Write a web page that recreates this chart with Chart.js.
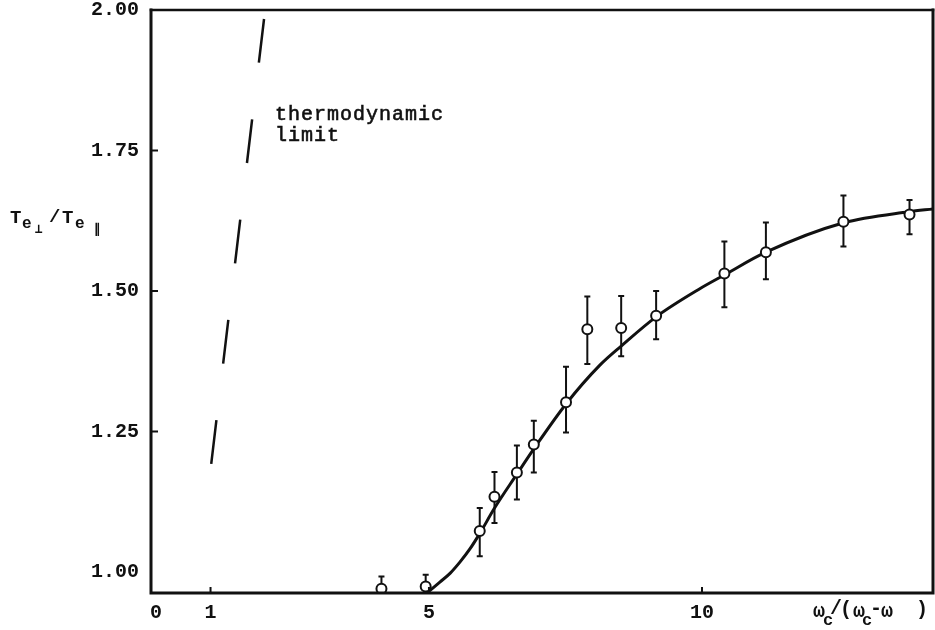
<!DOCTYPE html>
<html>
<head>
<meta charset="utf-8">
<title>Te⊥/Te∥ versus ωc/(ωc-ω)</title>
<script src="https://cdn.jsdelivr.net/npm/chart.js@4.4.1/dist/chart.umd.min.js"></script>
<style>
  html, body { margin: 0; padding: 0; background: #fff; }
  canvas { display: block; }
</style>
</head>
<body>
<canvas id="ratioChart" width="935" height="630"></canvas>
<script>
// ==============================
// data
// ==============================

// measured points, with the ends of their error bars
const xPoints  = [4.13, 4.94, 5.93, 6.20, 6.61, 6.92, 7.51, 7.90, 8.52, 9.16, 10.41, 11.17, 12.59, 13.80];
const yPoints  = [0.970, 0.974, 1.073, 1.134, 1.177, 1.227, 1.302, 1.432, 1.434, 1.456, 1.531, 1.569, 1.623, 1.636];
const yErrLow  = [0.948, 0.953, 1.028, 1.087, 1.129, 1.177, 1.248, 1.370, 1.384, 1.414, 1.471, 1.521, 1.579, 1.601];
const yErrHigh = [0.992, 0.995, 1.114, 1.178, 1.225, 1.269, 1.365, 1.490, 1.491, 1.500, 1.588, 1.622, 1.670, 1.662];

// smooth curve drawn through the points
const curveX = [4.98, 5.20, 5.39, 5.57, 5.75, 5.94, 6.19, 6.61, 6.92, 7.51, 8.13, 8.52, 9.16, 9.96, 10.40, 11.17, 12.58, 13.79, 14.23];
const curveY = [0.964, 0.982, 0.998, 1.018, 1.041, 1.070, 1.112, 1.174, 1.219, 1.299, 1.368, 1.402, 1.454, 1.504, 1.528, 1.569, 1.621, 1.641, 1.646];

// thermodynamic limit (dashed), top end first so the dashes start there
const limitX = [1.98, 1.01];
const limitY = [1.984, 1.190];

// axes
const xTicks = [0, 1, 5, 10];
const yTicks = [1.00, 1.25, 1.50, 1.75, 2.00];
const xTickMarks = [1, 5, 10];
const yTickMarks = [1.25, 1.50, 1.75];

const INK = '#111';
const MONO = '"Liberation Mono", "DejaVu Sans Mono", monospace';

function toXY(xs, ys) {
    return xs.map((x, i) => ({ x: x, y: ys[i] }));
}

// error bars, drawn just before the circles so the circles sit on top
const errorBars = {
    id: 'errorBars',
    beforeDatasetDraw(chart, args) {
        if (args.index !== 0) return;
        const { ctx, chartArea: a, scales: { x, y } } = chart;
        ctx.save();
        ctx.beginPath();
        ctx.rect(a.left, a.top, a.right - a.left, a.bottom - a.top);
        ctx.clip();
        ctx.strokeStyle = INK;
        ctx.lineWidth = 2;
        ctx.beginPath();
        xPoints.forEach((xv, i) => {
            const px = x.getPixelForValue(xv);
            const top = y.getPixelForValue(yErrHigh[i]);
            const bot = y.getPixelForValue(yErrLow[i]);
            ctx.moveTo(px, top); ctx.lineTo(px, bot);
            ctx.moveTo(px - 3, top); ctx.lineTo(px + 3, top);
            ctx.moveTo(px - 3, bot); ctx.lineTo(px + 3, bot);
        });
        ctx.stroke();
        ctx.restore();
    }
};

function drawPieces(ctx, pieces) {
    pieces.forEach(p => {
        ctx.font = p.f;
        ctx.fillText(p.t, p.x, p.y);
    });
}

// frame, inward tick marks and the free text
const frame = {
    id: 'frame',
    afterDraw(chart) {
        const { ctx, chartArea: a, scales: { x, y } } = chart;
        ctx.save();
        ctx.strokeStyle = INK;
        ctx.fillStyle = INK;
        ctx.lineCap = 'square';

        ctx.lineWidth = 3;
        ctx.beginPath();
        ctx.moveTo(a.left, a.top);
        ctx.lineTo(a.left, a.bottom);
        ctx.lineTo(a.right, a.bottom);
        ctx.lineTo(a.right, a.top);
        ctx.stroke();
        ctx.lineWidth = 2.5;
        ctx.beginPath();
        ctx.moveTo(a.left, a.top);
        ctx.lineTo(a.right, a.top);
        ctx.stroke();

        ctx.lineCap = 'butt';
        ctx.lineWidth = 2;
        ctx.beginPath();
        xTickMarks.forEach(v => {
            const px = x.getPixelForValue(v);
            ctx.moveTo(px, a.bottom);
            ctx.lineTo(px, a.bottom - 6);
        });
        yTickMarks.forEach(v => {
            const py = y.getPixelForValue(v);
            ctx.moveTo(a.left, py);
            ctx.lineTo(a.left + 7, py);
        });
        ctx.stroke();

        // annotation, slightly thickened to look typewritten
        ctx.textAlign = 'left';
        ctx.textBaseline = 'alphabetic';
        ctx.letterSpacing = '1px';
        ctx.font = '20px ' + MONO;
        ctx.lineWidth = 0.6;
        ['thermodynamic', 'limit'].forEach((s, i) => {
            ctx.fillText(s, 275, 120 + i * 21);
            ctx.strokeText(s, 275, 120 + i * 21);
        });
        ctx.letterSpacing = '0px';

        // y title  Te⊥/Te∥
        const big = 'bold 19px ' + MONO;
        const sub = 'bold 16px ' + MONO;
        const sub2 = 'bold 13px ' + MONO;
        drawPieces(ctx, [
            { t: 'T', x: 10, y: 223, f: big },
            { t: 'e', x: 22, y: 228, f: sub },
            { t: '\u22A5', x: 35, y: 233, f: sub2 },
            { t: '/', x: 49, y: 222, f: big },
            { t: 'T', x: 62, y: 223, f: big },
            { t: 'e', x: 75, y: 228, f: sub },
            { t: '\u2225', x: 94, y: 233, f: sub2 }
        ]);

        // x title  ωc/(ωc-ω)
        const xf = 'bold 20px ' + MONO;
        const xs = 'bold 17px ' + MONO;
        drawPieces(ctx, [
            { t: '\u03C9', x: 813, y: 617, f: xf },
            { t: 'c', x: 823, y: 625, f: xs },
            { t: '/', x: 830, y: 614, f: xf },
            { t: '(', x: 840, y: 615, f: xf },
            { t: '\u03C9', x: 853, y: 617, f: xf },
            { t: 'c', x: 862, y: 625, f: xs },
            { t: '-', x: 870, y: 614, f: xf },
            { t: '\u03C9', x: 881, y: 617, f: xf },
            { t: ')', x: 916, y: 615, f: xf }
        ]);
        ctx.restore();
    }
};

const tickFont = { family: MONO, size: 20, weight: 'bold' };

new Chart(document.getElementById('ratioChart'), {
    type: 'scatter',
    data: {
        datasets: [
            {
                label: 'measured',
                data: toXY(xPoints, yPoints),
                pointStyle: 'circle',
                pointRadius: 5,
                pointBorderWidth: 2,
                pointBackgroundColor: '#fff',
                pointBorderColor: INK,
                showLine: false,
                order: 0
            },
            {
                label: 'fit',
                data: toXY(curveX, curveY),
                showLine: true,
                borderColor: INK,
                borderWidth: 3,
                pointRadius: 0,
                cubicInterpolationMode: 'monotone',
                order: 1
            },
            {
                label: 'thermodynamic limit',
                data: toXY(limitX, limitY),
                showLine: true,
                borderColor: INK,
                borderWidth: 2.5,
                borderDash: [44, 57],
                pointRadius: 0,
                order: 2
            }
        ]
    },
    options: {
        responsive: false,
        animation: false,
        devicePixelRatio: 1,
        layout: { autoPadding: false, padding: { top: 10, right: 2, left: 0, bottom: 0 } },
        plugins: {
            legend: { display: false },
            tooltip: { enabled: false }
        },
        scales: {
            x: {
                type: 'linear',
                min: -0.09,
                max: 14.23,
                afterBuildTicks: s => { s.ticks = xTicks.map(v => ({ value: v })); },
                afterFit: s => { s.height = 37; s.paddingLeft = 0; s.paddingRight = 0; },
                ticks: { color: INK, font: tickFont, padding: 8, callback: v => String(v) },
                grid: { display: false, drawTicks: false },
                border: { display: false }
            },
            y: {
                type: 'linear',
                min: 0.9626,
                max: 2.0,
                afterBuildTicks: s => { s.ticks = yTicks.map(v => ({ value: v })); },
                afterFit: s => { s.width = 151; s.paddingTop = 0; s.paddingBottom = 0; },
                ticks: { color: INK, font: tickFont, padding: 12, callback: v => v.toFixed(2) },
                grid: { display: false, drawTicks: false },
                border: { display: false }
            }
        }
    },
    plugins: [errorBars, frame]
});
</script>
</body>
</html>
